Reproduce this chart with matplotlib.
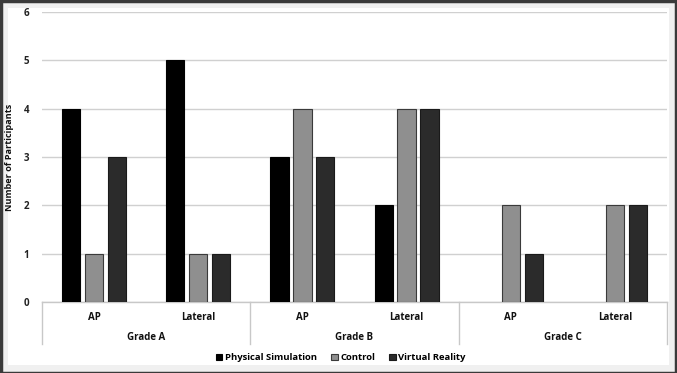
import matplotlib
matplotlib.use("Agg")
import matplotlib.pyplot as plt
from matplotlib.patches import Rectangle, Patch
import numpy as np

plt.rcParams['font.family'] = ['Open Sans', 'DejaVu Sans']

grades = ["Grade A", "Grade B", "Grade C"]
views = ["AP", "Lateral", "AP", "Lateral", "AP", "Lateral"]
series_names = ["Physical Simulation", "Control", "Virtual Reality"]
physical = [4, 5, 3, 2, 0, 0]
control = [1, 1, 4, 4, 2, 2]
virtual = [3, 1, 3, 4, 1, 2]
yticks = [0, 1, 2, 3, 4, 5, 6]

colors = ["#000000", "#8f8f8f", "#2b2b2b"]
edges = ["#000000", "#3a3a3a", "#1a1a1a"]

W, H = 677, 373
fig = plt.figure(figsize=(W / 100, H / 100), dpi=100)
fig.patch.set_facecolor("#f0f0f0")

fig.add_artist(Rectangle((8 / W, 8 / H), (W - 16) / W, (H - 16) / H, transform=fig.transFigure,
                         facecolor="white", edgecolor="none", zorder=0))
fig.add_artist(Rectangle((0.5 / W, 0.5 / H), (W - 1.5) / W, (H - 1.5) / H, transform=fig.transFigure,
                         facecolor="none", edgecolor="#3a3a3a", linewidth=2.5, zorder=5))

ax = fig.add_axes([42 / W, (H - 302) / H, 625 / W, 290 / H])
ax.set_facecolor("white")
ax.patch.set_alpha(0)

x = np.arange(len(views))
off = 0.22
bw = 0.175
for i, (vals, c, e) in enumerate(zip([physical, control, virtual], colors, edges)):
    lws = [0.8 if v > 0 else 0 for v in vals]
    ax.bar(x + (i - 1) * off, vals, width=bw, color=c, edgecolor=e, linewidth=lws,
           label=series_names[i], zorder=3)

ax.set_xlim(-0.5, len(views) - 0.5)
ax.set_ylim(0, 6)
ax.set_yticks(yticks)
ax.set_yticklabels([str(t) for t in yticks], fontsize=7, fontweight="bold", color="#222222")
ax.tick_params(axis="y", length=0, pad=9)
ax.tick_params(axis="x", length=0, labelbottom=False)
ax.grid(axis="y", color="#d0d0d0", linewidth=1.0, zorder=0)
for s in ["top", "right", "left"]:
    ax.spines[s].set_visible(False)
ax.spines["bottom"].set_color("#c8c8c8")
ax.spines["bottom"].set_linewidth(1.0)

ax.set_ylabel("Number of Participants", fontsize=6.6, fontweight="bold", color="#111111")
ax.yaxis.set_label_coords(-(42 - 14) / 625, 0.5)

trans = ax.get_xaxis_transform()
for xi, v in zip(x, views):
    ax.text(xi, -0.052, v, transform=trans, ha="center", va="center", fontsize=7,
            fontweight="bold", color="#111111")
for gi, g in enumerate(grades):
    ax.text(2 * gi + 0.5, -0.121, g, transform=trans, ha="center", va="center", fontsize=7,
            fontweight="bold", color="#111111")
for sx in [-0.5, 1.5, 3.5, 5.5]:
    ax.plot([sx, sx], [0, -0.145], transform=trans, color="#c8c8c8", linewidth=1.0, clip_on=False)

handles = [Patch(facecolor=c, edgecolor=e, linewidth=0.8) for c, e in zip(colors, edges)]
fig.legend(handles, series_names, loc="center", bbox_to_anchor=(341 / W, 1 - 358 / H), ncol=3,
           frameon=False, handlelength=0.65, handleheight=0.65, handletextpad=0.3,
           columnspacing=1.5, prop={"weight": "bold", "size": 6.8})

fig.savefig("out.png", dpi=100, facecolor=fig.get_facecolor())
